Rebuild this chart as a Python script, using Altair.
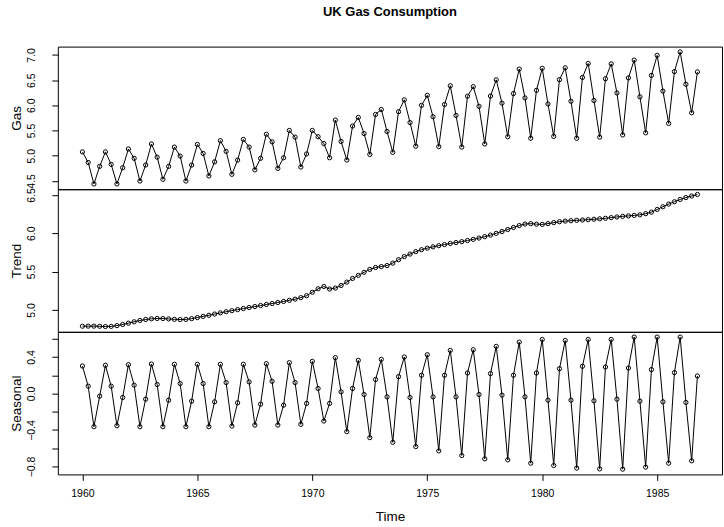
import altair as alt
import pandas as pd

years = list(range(1960, 1987))
quarters = [0.0, 0.25, 0.5, 0.75]
time = [y + q for y in years for q in quarters]

gas = [
    5.076, 4.865, 4.440, 4.788,
    5.076, 4.828, 4.440, 4.761,
    5.134, 4.948, 4.497, 4.815,
    5.233, 4.971, 4.532, 4.788,
    5.171, 4.993, 4.497, 4.815,
    5.224, 5.045, 4.598, 4.878,
    5.299, 5.086, 4.630, 4.913,
    5.323, 5.171, 4.719, 4.948,
    5.426, 5.275, 4.748, 4.959,
    5.501, 5.368, 4.775, 5.035,
    5.501, 5.376, 5.241, 4.959,
    5.707, 5.283, 4.913, 5.588,
    5.759, 5.440, 5.025, 5.818,
    5.917, 5.481, 5.066, 5.873,
    6.109, 5.658, 5.189, 6.000,
    6.198, 5.774, 5.180, 6.016,
    6.387, 5.799, 5.171, 6.181,
    6.370, 5.980, 5.233, 6.184,
    6.506, 6.043, 5.376, 6.233,
    6.719, 6.147, 5.346, 6.297,
    6.734, 6.027, 5.383, 6.509,
    6.744, 6.080, 5.346, 6.553,
    6.830, 6.095, 5.368, 6.527,
    6.822, 6.245, 5.412, 6.544,
    6.897, 6.168, 5.454, 6.593,
    6.991, 6.282, 5.641, 6.669,
    7.060, 6.418, 5.851, 6.663,
]

trend = [
    4.787, 4.788, 4.788, 4.786,
    4.783, 4.785, 4.795, 4.810,
    4.827, 4.845, 4.862, 4.875,
    4.884, 4.888, 4.887, 4.882,
    4.877, 4.874, 4.876, 4.886,
    4.900, 4.915, 4.930, 4.946,
    4.961, 4.976, 4.990, 5.004,
    5.018, 5.031, 5.044, 5.057,
    5.070, 5.083, 5.096, 5.110,
    5.125, 5.140, 5.160, 5.185,
    5.230, 5.275, 5.305, 5.272,
    5.285, 5.318, 5.362, 5.410,
    5.450, 5.490, 5.528, 5.553,
    5.565, 5.578, 5.610, 5.655,
    5.695, 5.728, 5.760, 5.785,
    5.805, 5.822, 5.838, 5.852,
    5.866, 5.878, 5.890, 5.905,
    5.920, 5.937, 5.955, 5.975,
    5.998, 6.022, 6.048, 6.075,
    6.100, 6.120, 6.125, 6.118,
    6.115, 6.125, 6.138, 6.150,
    6.158, 6.163, 6.168, 6.172,
    6.177, 6.182, 6.188, 6.195,
    6.203, 6.212, 6.220, 6.226,
    6.232, 6.240, 6.255, 6.275,
    6.310, 6.345, 6.380, 6.410,
    6.440, 6.465, 6.485, 6.505,
]

seasonal = [
    0.301, 0.080, -0.364, -0.029,
    0.309, 0.080, -0.353, -0.044,
    0.316, 0.091, -0.364, -0.062,
    0.323, 0.098, -0.364, -0.073,
    0.320, 0.109, -0.364, -0.084,
    0.320, 0.109, -0.364, -0.091,
    0.320, 0.120, -0.357, -0.102,
    0.320, 0.127, -0.346, -0.117,
    0.327, 0.134, -0.346, -0.128,
    0.338, 0.120, -0.338, -0.109,
    0.352, 0.055, -0.302, -0.109,
    0.393, 0.018, -0.418, 0.055,
    0.363, -0.011, -0.484, 0.153,
    0.374, -0.037, -0.535, 0.185,
    0.400, -0.044, -0.582, 0.200,
    0.425, -0.037, -0.629, 0.200,
    0.472, -0.037, -0.680, 0.225,
    0.480, -0.011, -0.716, 0.218,
    0.516, -0.018, -0.727, 0.200,
    0.563, -0.037, -0.764, 0.225,
    0.592, -0.073, -0.789, 0.272,
    0.581, -0.073, -0.818, 0.298,
    0.592, -0.080, -0.826, 0.290,
    0.592, -0.062, -0.829, 0.279,
    0.618, -0.084, -0.807, 0.262,
    0.618, -0.091, -0.764, 0.229,
    0.618, -0.098, -0.738, 0.192,
]

x_ticks = [1960, 1965, 1970, 1975, 1980, 1985]
gas_ticks = [4.5, 5.0, 5.5, 6.0, 6.5, 7.0]
trend_ticks = [5.0, 5.5, 6.0, 6.5]
seasonal_ticks = [-0.8, -0.6, -0.4, -0.2, 0.0, 0.2, 0.4, 0.6]

df = pd.DataFrame({"time": time, "gas": gas, "trend": trend, "seasonal": seasonal})

FONT = "Liberation Sans"
W, H = 666, 143


def padded(vals):
    lo, hi = min(vals), max(vals)
    r = hi - lo
    return [lo - 0.04 * r, hi + 0.04 * r]


xdom = padded(time)


def panel(field, title, ticks, label_expr, show_x):
    y_axis = alt.Axis(
        values=ticks, title=title, labelExpr=label_expr,
        labelAngle=270, labelAlign="center", labelBaseline="alphabetic",
        labelPadding=17, labelFont=FONT, labelFontSize=10.5, labelColor="black",
        labelOverlap=False, labelBound=False, labelFlush=False,
        tickSize=6, tickColor="black", tickWidth=1, domain=False, grid=False,
        titleAngle=270, titleX=-37.5, titleY=H / 2, titleAlign="center",
        titleBaseline="alphabetic", titleFont=FONT, titleFontSize=13.5,
        titleFontWeight="normal", titleColor="black",
    )
    if show_x:
        x_axis = alt.Axis(
            values=x_ticks, format="d", title="Time",
            labelFont=FONT, labelFontSize=10.5, labelColor="black",
            labelPadding=8, labelFlush=False, labelOverlap=False,
            tickSize=6, tickColor="black", tickWidth=1, domain=False, grid=False,
            titleFont=FONT, titleFontSize=13.5, titleFontWeight="normal",
            titleColor="black", titleY=46, titleBaseline="alphabetic",
        )
    else:
        x_axis = None
    base = alt.Chart(df).encode(
        x=alt.X("time:Q", scale=alt.Scale(domain=xdom, nice=False, zero=False), axis=x_axis),
        y=alt.Y(f"{field}:Q", scale=alt.Scale(domain=padded(df[field].tolist()), nice=False, zero=False), axis=y_axis),
    )
    line = base.mark_line(color="black", strokeWidth=1)
    pts = base.mark_point(shape="circle", filled=False, color="black", size=18, strokeWidth=1, opacity=1)
    return alt.layer(line, pts).properties(width=W, height=H)


p1 = panel("gas", "Gas", gas_ticks, "format(datum.value, '.1f')", False)
p2 = panel("trend", "Trend", trend_ticks, "format(datum.value, '.1f')", False)
p3 = panel("seasonal", "Seasonal", seasonal_ticks,
           "(round(datum.value*10) % 4 == 0) ? format(datum.value, '.1f') : ''", True)

chart = alt.vconcat(p1, p2, p3, spacing=0, bounds="flush").properties(
    title=alt.TitleParams(
        text="UK Gas Consumption", anchor="middle", frame="group", font=FONT, fontSize=13,
        fontWeight="bold", color="black", offset=27,
    ),
    padding={"left": 9, "top": 5, "right": 1, "bottom": 5},
    background="white",
).configure_view(stroke="black", strokeWidth=1)

chart.save("out.html", embed_options={"renderer": "svg", "actions": False})
